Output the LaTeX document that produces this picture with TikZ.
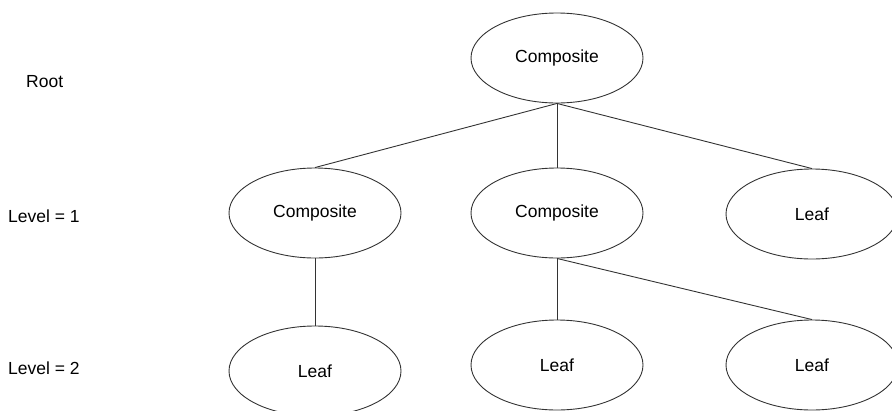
\documentclass[tikz,border=0pt]{standalone}
\usepackage{fontspec}
\setmainfont{Liberation Sans}
\usetikzlibrary{shapes.geometric}
\begin{document}
\begin{tikzpicture}[x=1pt,y=-1pt,
  el/.style={ellipse,draw=black!80,line width=0.9pt,minimum width=172pt,minimum height=90pt,inner sep=0pt,font=\fontsize{17.5}{20}\selectfont},
  lbl/.style={anchor=west,inner sep=0pt,font=\fontsize{17.5}{20}\selectfont},
  conn/.style={draw=black!80,line width=0.9pt}]
\useasboundingbox (0,0) rectangle (892,410);
\clip (0,0) rectangle (892,410);
\node[lbl] (root) at (26,82) {Root};
\node[lbl] (lv1) at (8,216) {Level = 1};
\node[lbl] (lv2) at (8,368) {Level = 2};
\node[el] (top) at (557,58) {Composite};
\node[el] (c1) at (315,213) {Composite};
\node[el] (c2) at (557,213) {Composite};
\node[el] (l1) at (812,214) {Leaf};
\node[el] (l2) at (315,371) {Leaf};
\node[el] (l3) at (557,365) {Leaf};
\node[el] (l4) at (812,365) {Leaf};
\draw[conn] (top.south) -- (c1.north);
\draw[conn] (top.south) -- (c2.north);
\draw[conn] (top.south) -- (l1.north);
\draw[conn] (c1.south) -- (l2.north);
\draw[conn] (c2.south) -- (l3.north);
\draw[conn] (c2.south) -- (l4.north);
\end{tikzpicture}
\end{document}
